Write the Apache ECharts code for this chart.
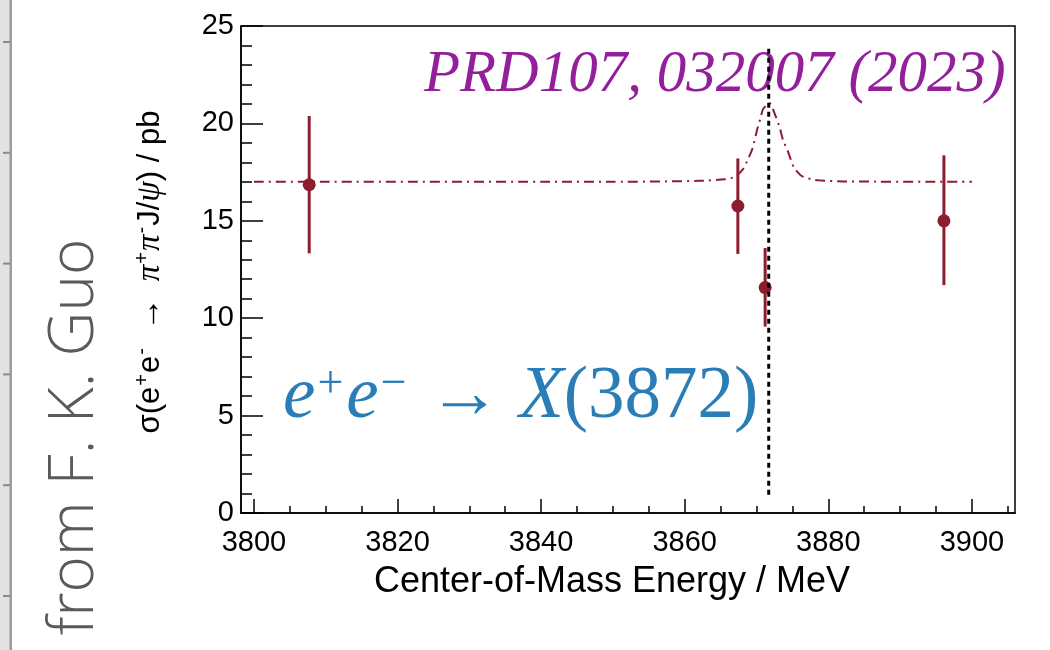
<!DOCTYPE html>
<html>
<head>
<meta charset="utf-8">
<script src="https://cdn.jsdelivr.net/npm/echarts@6/dist/echarts.min.js"></script>
<style>
  html, body { margin: 0; padding: 0; background: #fff; }
  #chart { width: 1050px; height: 650px; }
</style>
</head>
<body>
<div id="chart"></div>
<script>
// measured points (MeV, pb) and asymmetric errors
var energies = [3807.7, 3867.4, 3871.2, 3896.1];
var xsec     = [16.85, 15.76, 11.57, 15.0];
var errHigh  = [20.38, 18.2, 13.6, 18.36];
var errLow   = [13.33, 13.3, 9.57, 11.7];

// dash-dot fit curve
var curveE = [3800, 3850, 3862, 3865.6, 3867.0, 3868.1, 3868.8, 3869.4, 3870.1, 3870.5, 3870.9,
              3871.8, 3872.6, 3873.2, 3873.7, 3874.4, 3875.2, 3876.3, 3877.7, 3878.6, 3882, 3900];
var curveS = [17.0, 17.0, 17.05, 17.13, 17.26, 17.64, 18.15, 18.67, 19.7, 20.2, 20.72,
              21.05, 20.43, 19.83, 19.14, 18.54, 17.74, 17.3, 17.13, 17.08, 17.02, 17.0];

// X(3872) mass marker
var xMass = 3871.7;
var markLow = 0.94, markHigh = 23.9;

var xMajor = [3800, 3820, 3840, 3860, 3880, 3900];
var xMinor = [];
for (var v = 3800; v <= 3905; v += 5) xMinor.push(v);
var yMinor = [];
for (var w = 0; w <= 25; w += 1) yMinor.push(w);

var red = '#8c1d2f';
var blue = '#2a7db6';

var chart = echarts.init(document.getElementById('chart'), null, {renderer: 'canvas'});

var points = energies.map(function (e, i) { return [e, xsec[i]]; });
var bars = energies.map(function (e, i) { return [e, errLow[i], errHigh[i]]; });
var curve = curveE.map(function (e, i) { return [e, curveS[i]]; });

var leftTicks = [];
for (var i = 0; i < 6; i++) {
    leftTicks.push({
        type: 'rect', shape: {x: 3, y: 41 + i * 110.8, width: 7, height: 2},
        style: {fill: '#8a8a8a'}
    });
}

var tickFont = {color: '#000', fontSize: 29, fontFamily: 'Liberation Sans'};

var option = {
    animation: false,
    grid: {left: 241, right: 35, top: 26, bottom: 137, show: true,
        borderColor: '#000', borderWidth: 1.5},
    xAxis: [{
        type: 'value', min: 3798.2, max: 3906,
        axisLine: {show: true, lineStyle: {color: '#000', width: 1.5}},
        axisTick: {show: true, inside: true, length: 14, customValues: xMajor,
            lineStyle: {color: '#000', width: 1.5}},
        axisLabel: Object.assign({customValues: xMajor, margin: 15,
            formatter: function (val) { return String(val); }}, tickFont),
        splitLine: {show: false}
    }, {
        type: 'value', min: 3798.2, max: 3906, position: 'bottom',
        axisLine: {show: false},
        axisTick: {show: true, inside: true, length: 7, customValues: xMinor,
            lineStyle: {color: '#000', width: 1.5}},
        axisLabel: {show: false},
        splitLine: {show: false}
    }],
    yAxis: [{
        type: 'value', min: 0, max: 25, interval: 5,
        axisLine: {show: true, lineStyle: {color: '#000', width: 1.5}},
        axisTick: {show: true, inside: true, length: 22, lineStyle: {color: '#000', width: 1.5}},
        axisLabel: Object.assign({margin: 7}, tickFont),
        splitLine: {show: false}
    }, {
        type: 'value', min: 0, max: 25, position: 'left', offset: 0,
        axisLine: {show: false},
        axisTick: {show: true, inside: true, length: 11, customValues: yMinor,
            lineStyle: {color: '#000', width: 1.5}},
        axisLabel: {show: false},
        splitLine: {show: false}
    }],
    graphic: [
        {type: 'rect', shape: {x: 0, y: 0, width: 10, height: 650}, style: {fill: '#e2e2e2'}},
        {type: 'rect', shape: {x: 9.5, y: 0, width: 2.5, height: 650}, style: {fill: '#9c9c9c'}}
    ].concat(leftTicks).concat([
        {type: 'text', x: 75, y: 437, rotation: Math.PI / 2,
            style: {text: 'from F. K. Guo', fill: '#5a5a5a', font: '300 62px "Open Sans"',
                align: 'center', verticalAlign: 'middle'}},
        {type: 'text', x: 150, y: 272, rotation: Math.PI / 2,
            style: {
                text: '{n|σ(e}{s|+}{n|e}{s|-}{g|  →  π}{s|+}{g|π}{s|-}{n|J/}{g|ψ}{n|) / pb}',
                align: 'center', verticalAlign: 'middle',
                rich: {
                    n: {fontSize: 31, fontFamily: 'Liberation Sans', color: '#000'},
                    g: {fontSize: 33, fontFamily: 'Liberation Serif', fontStyle: 'italic', color: '#000'},
                    s: {fontSize: 20, fontFamily: 'Liberation Sans', color: '#000',
                        verticalAlign: 'top', padding: [0, 1, 15, 1]}
                }
            }},
        {type: 'text', x: 612, y: 582,
            style: {text: 'Center-of-Mass Energy / MeV', fill: '#000', font: '36px "Liberation Sans"',
                align: 'center', verticalAlign: 'middle'}},
        {type: 'text', x: 424, y: 75,
            style: {text: 'PRD107, 032007 (2023)', fill: '#931f9b', font: 'italic 59px "Liberation Serif"',
                align: 'left', verticalAlign: 'middle'}},
        {type: 'text', x: 283, y: 398,
            style: {
                text: '{i|e}{s|+}{i|e}{s|−}{n| → }{i|X}{n|(3872)}',
                align: 'left', verticalAlign: 'middle',
                rich: {
                    i: {font: 'italic 73px "Liberation Serif"', fill: blue},
                    n: {font: '73px "Liberation Serif"', fill: blue},
                    s: {font: '46px "Liberation Serif"', fill: blue, verticalAlign: 'top', padding: [0, 3, 26, 2]}
                }
            }}
    ]),
    series: [{
        type: 'line', data: curve, xAxisIndex: 0, showSymbol: false, smooth: 0.2,
        lineStyle: {color: red, width: 2, type: [10, 5, 2, 5]}, z: 2
    }, {
        type: 'custom', data: bars, xAxisIndex: 0, z: 3,
        renderItem: function (params, api) {
            var lo = api.coord([api.value(0), api.value(1)]);
            var hi = api.coord([api.value(0), api.value(2)]);
            return {
                type: 'line',
                shape: {x1: lo[0], y1: lo[1], x2: hi[0], y2: hi[1]},
                style: {stroke: red, lineWidth: 3}
            };
        }
    }, {
        type: 'scatter', data: points, xAxisIndex: 0, symbolSize: 13, z: 4,
        itemStyle: {color: red, opacity: 1}
    }, {
        type: 'line', data: [[xMass, markLow], [xMass, markHigh]], xAxisIndex: 0, showSymbol: false, z: 5,
        lineStyle: {color: '#000', width: 3, type: [5, 4]}
    }]
};
chart.setOption(option);
</script>
</body>
</html>
